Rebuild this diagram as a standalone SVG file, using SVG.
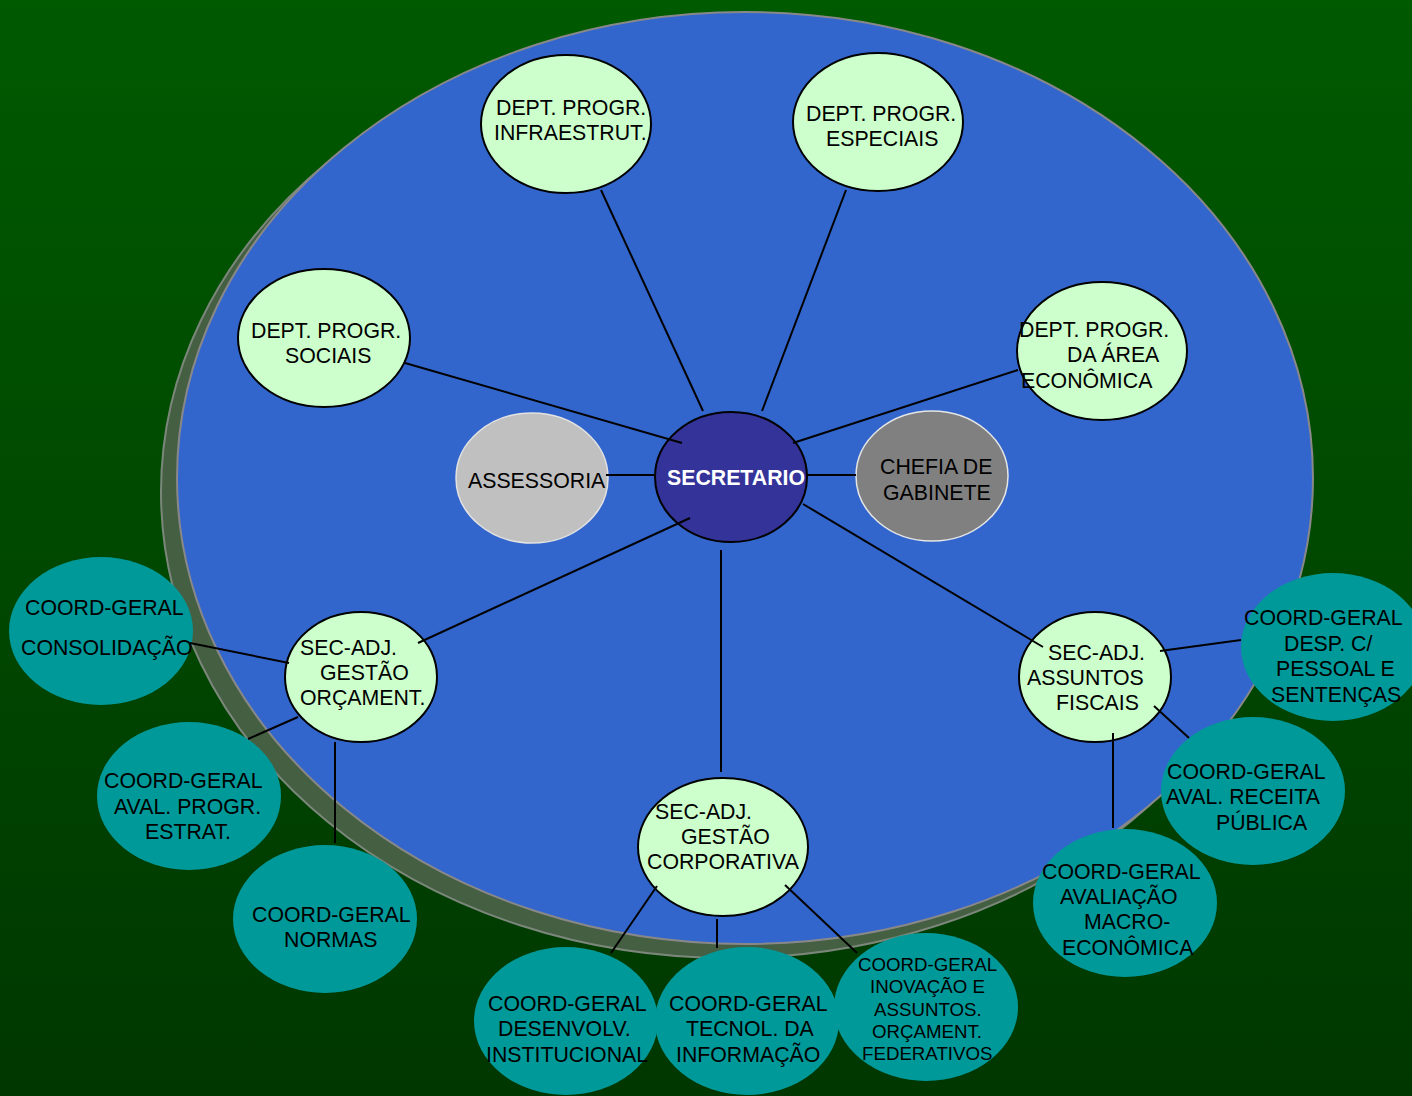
<svg xmlns="http://www.w3.org/2000/svg" width="1412" height="1096" viewBox="0 0 1412 1096">
<defs>
<linearGradient id="bg" x1="0" y1="0" x2="0" y2="1">
<stop offset="0" stop-color="#005a00"/>
<stop offset="1" stop-color="#003700"/>
</linearGradient>
</defs>
<style>
text{font-family:"Liberation Sans",Arial,sans-serif;font-size:21.3px;fill:#000}
.dept{fill:#ccffcc;stroke:#000;stroke-width:2}
.coord{fill:#009999}
.small{font-size:18.7px}
#connectors line{stroke:#000;stroke-width:2}
</style>
<rect x="0" y="0" width="1412" height="1096" fill="url(#bg)"/>
<g id="board">
<ellipse cx="729" cy="492" rx="568" ry="466" fill="#455f42" stroke="#7a877a" stroke-width="2"/>
<ellipse cx="745" cy="478" rx="568" ry="466" fill="#3366cc" stroke="#888888" stroke-width="2"/>
</g>
<g id="n-infra"><ellipse class="dept" cx="566" cy="124" rx="85" ry="69"/><text x="496" y="115">DEPT. PROGR.</text><text x="494" y="140">INFRAESTRUT.</text></g>
<g id="n-especiais"><ellipse class="dept" cx="878" cy="122" rx="85" ry="69"/><text x="806" y="121">DEPT. PROGR.</text><text x="826" y="146">ESPECIAIS</text></g>
<g id="n-sociais"><ellipse class="dept" cx="324" cy="338" rx="86" ry="69"/><text x="251" y="338">DEPT. PROGR.</text><text x="285" y="363">SOCIAIS</text></g>
<g id="n-economica"><ellipse class="dept" cx="1102" cy="351" rx="85" ry="69"/><text x="1019" y="337">DEPT. PROGR.</text><text x="1067" y="362">DA ÁREA</text><text x="1021" y="388">ECONÔMICA</text></g>
<g id="n-assessoria"><ellipse cx="532" cy="478" rx="76" ry="65" fill="#c0c0c0" stroke="#e2e2e2" stroke-width="1.5"/><text x="468" y="488">ASSESSORIA</text></g>
<g id="n-secretario"><ellipse cx="731" cy="477" rx="76" ry="65" fill="#333399" stroke="#000" stroke-width="2"/><text x="667" y="485" style="fill:#fff;font-weight:bold">SECRETARIO</text></g>
<g id="n-chefia"><ellipse cx="932" cy="476" rx="76" ry="65" fill="#808080" stroke="#e6e6e6" stroke-width="1.5"/><text x="880" y="474">CHEFIA DE</text><text x="883" y="500">GABINETE</text></g>
<g id="n-orcament"><ellipse class="dept" cx="361" cy="677" rx="76" ry="65"/><text x="300" y="655">SEC-ADJ.</text><text x="320" y="680">GESTÃO</text><text x="300" y="705">ORÇAMENT.</text></g>
<g id="n-fiscais"><ellipse class="dept" cx="1095" cy="677" rx="76" ry="65"/><text x="1048" y="660">SEC-ADJ.</text><text x="1027" y="685">ASSUNTOS</text><text x="1056" y="710">FISCAIS</text></g>
<g id="n-corporativa"><ellipse class="dept" cx="723" cy="847" rx="85" ry="69"/><text x="655" y="819">SEC-ADJ.</text><text x="681" y="844">GESTÃO</text><text x="647" y="869">CORPORATIVA</text></g>
<g id="c-consolidacao"><ellipse class="coord" cx="101" cy="631" rx="92" ry="74"/><text x="25" y="615">COORD-GERAL</text><text x="21" y="655">CONSOLIDAÇÃO</text></g>
<g id="c-aval-progr"><ellipse class="coord" cx="189" cy="796" rx="92" ry="74"/><text x="104" y="788">COORD-GERAL</text><text x="114" y="814">AVAL. PROGR.</text><text x="145" y="839">ESTRAT.</text></g>
<g id="c-normas"><ellipse class="coord" cx="325" cy="919" rx="92" ry="74"/><text x="252" y="922">COORD-GERAL</text><text x="284" y="947">NORMAS</text></g>
<g id="c-desenvolv"><ellipse class="coord" cx="566" cy="1021" rx="92" ry="74"/><text x="488" y="1011">COORD-GERAL</text><text x="498" y="1036">DESENVOLV.</text><text x="486" y="1062">INSTITUCIONAL</text></g>
<g id="c-tecnol"><ellipse class="coord" cx="747" cy="1021" rx="92" ry="74"/><text x="669" y="1011">COORD-GERAL</text><text x="686" y="1036">TECNOL. DA</text><text x="676" y="1062">INFORMAÇÃO</text></g>
<g id="c-inovacao"><ellipse class="coord" cx="926" cy="1007" rx="92" ry="74"/><text class="small" x="858" y="971">COORD-GERAL</text><text class="small" x="870" y="993">INOVAÇÃO E</text><text class="small" x="874" y="1016">ASSUNTOS.</text><text class="small" x="872" y="1038">ORÇAMENT.</text><text class="small" x="862" y="1060">FEDERATIVOS</text></g>
<g id="c-desp"><ellipse class="coord" cx="1333" cy="647" rx="92" ry="74"/><text x="1244" y="625">COORD-GERAL</text><text x="1284" y="651">DESP. C/</text><text x="1276" y="676">PESSOAL E</text><text x="1271" y="702">SENTENÇAS</text></g>
<g id="c-receita"><ellipse class="coord" cx="1253" cy="791" rx="92" ry="74"/><text x="1167" y="779">COORD-GERAL</text><text x="1166" y="804">AVAL. RECEITA</text><text x="1216" y="830">PÚBLICA</text></g>
<g id="c-macro"><ellipse class="coord" cx="1125" cy="903" rx="92" ry="74"/><text x="1042" y="879">COORD-GERAL</text><text x="1060" y="904">AVALIAÇÃO</text><text x="1084" y="929">MACRO-</text><text x="1062" y="955">ECONÔMICA</text></g>
<g id="connectors">
<line x1="703" y1="411" x2="601" y2="190"/>
<line x1="762" y1="411" x2="846" y2="190"/>
<line x1="682" y1="443" x2="405" y2="363"/>
<line x1="793" y1="443" x2="1018" y2="370"/>
<line x1="606" y1="475" x2="655" y2="475"/>
<line x1="807" y1="475" x2="856" y2="475"/>
<line x1="690" y1="518" x2="418" y2="643"/>
<line x1="721" y1="550" x2="721" y2="772"/>
<line x1="803" y1="504" x2="1043" y2="647"/>
<line x1="289" y1="663" x2="190" y2="643"/>
<line x1="298" y1="717" x2="248" y2="739"/>
<line x1="335" y1="742" x2="335" y2="843"/>
<line x1="657" y1="886" x2="611" y2="953"/>
<line x1="717" y1="919" x2="717" y2="948"/>
<line x1="785" y1="885" x2="857" y2="953"/>
<line x1="1160" y1="651" x2="1241" y2="640"/>
<line x1="1154" y1="706" x2="1189" y2="738"/>
<line x1="1113" y1="733" x2="1113" y2="828"/>
</g>
</svg>
